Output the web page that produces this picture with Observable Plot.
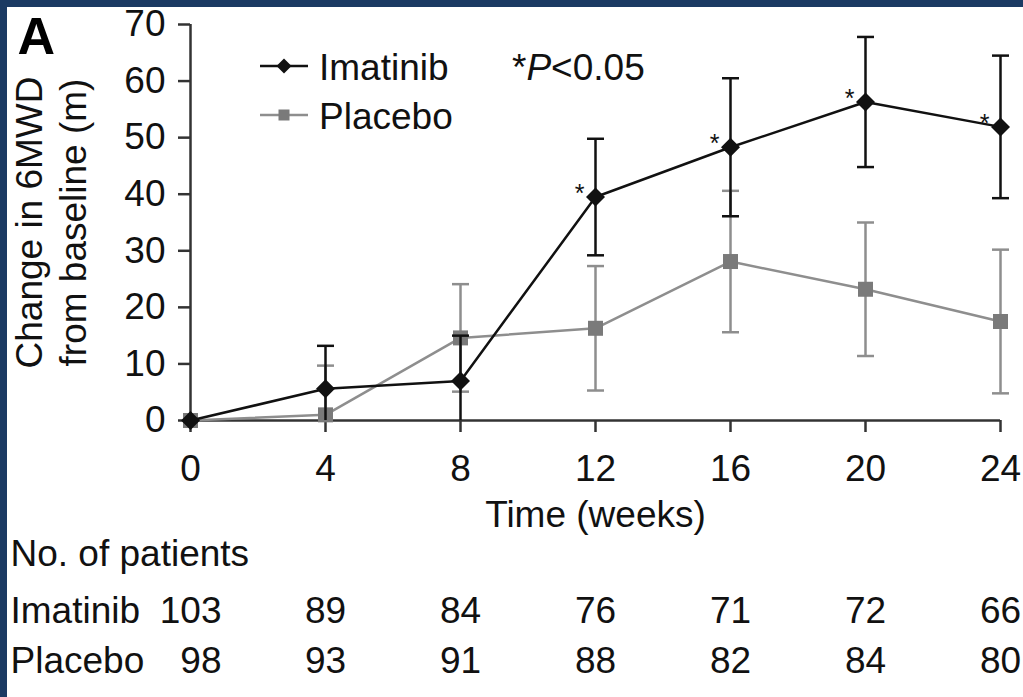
<!DOCTYPE html>
<html><head><meta charset="utf-8">
<script src="https://cdn.jsdelivr.net/npm/d3@7"></script>
<script src="https://cdn.jsdelivr.net/npm/@observablehq/plot@0.6"></script>
<style>
html,body{margin:0;padding:0;background:#fff;width:1023px;height:697px;overflow:hidden}
#chart{position:absolute;left:0;top:0}
.bt{position:absolute;left:0;top:0;width:1023px;height:7px;background:#1b3a63}
.bl{position:absolute;left:0;top:0;width:7px;height:697px;background:#1b3a63}
</style></head><body>
<div id="chart"></div><div class="bt"></div><div class="bl"></div>
<script>
// ---- data ----
const weeks = [0, 4, 8, 12, 16, 20, 24];
const imatinibMean = [0, 5.6, 7.0, 39.5, 48.3, 56.3, 51.9];
const imatinibErr  = [0, 7.6, 8.0, 10.3, 12.2, 11.5, 12.6];
const placeboMean  = [0, 1.0, 14.6, 16.3, 28.1, 23.2, 17.5];
const placeboErr   = [0, 8.7, 9.5, 11.0, 12.5, 11.8, 12.7];
const significant  = [false, false, false, true, true, true, true];
const imatinibN = [103, 89, 84, 76, 71, 72, 66];
const placeboN  = [98, 93, 91, 88, 82, 84, 80];
const yTicks = [0, 10, 20, 30, 40, 50, 60, 70];
const xTicks = [0, 4, 8, 12, 16, 20, 24];
const seriesNames = ["Imatinib", "Placebo"];

// ---- tables built from the arrays ----
const imatinib = weeks.map((w, i) => ({week: w, mean: imatinibMean[i], lo: Math.max(0, imatinibMean[i] - imatinibErr[i]), hi: imatinibMean[i] + imatinibErr[i], hasErr: imatinibErr[i] > 0, sig: significant[i], n: imatinibN[i]}));
const placebo = weeks.map((w, i) => ({week: w, mean: placeboMean[i], lo: Math.max(0, placeboMean[i] - placeboErr[i]), hi: placeboMean[i] + placeboErr[i], hasErr: placeboErr[i] > 0, n: placeboN[i]}));

const BLACK = "#111", GRAY = "#8e8e8e", GRAYFILL = "#7a7a7a", AXIS = "#333";
const FONT = "'Liberation Sans', Arial, Helvetica, sans-serif";
const FS = 37;

const capSym = {draw(ctx) { ctx.moveTo(-8.5, 0); ctx.lineTo(8.5, 0); }};
const diamondSym = {draw(ctx) { const r = 9.5; ctx.moveTo(0, -r); ctx.lineTo(r, 0); ctx.lineTo(0, r); ctx.lineTo(-r, 0); ctx.closePath(); }};
const squareSym = {draw(ctx) { const r = 7.5; ctx.rect(-r, -r, 2 * r, 2 * r); }};

function errorMarks(data, color) {
  const d = data.filter(r => r.hasErr);
  return [
    Plot.ruleX(d, {x: "week", y1: "lo", y2: "hi", stroke: color, strokeWidth: 2.5}),
    Plot.dot(d, {x: "week", y: "hi", symbol: capSym, stroke: color, strokeWidth: 2.5, fill: "none", r: 5}),
    Plot.dot(d.filter(r => r.mean - (r.hi - r.mean) >= 0), {x: "week", y: "lo", symbol: capSym, stroke: color, strokeWidth: 2.5, fill: "none", r: 5})
  ];
}

function legend() {
  const g = d3.create("svg:g").attr("font-family", FONT).attr("font-size", FS).attr("text-anchor", "start");
  const items = [
    {name: seriesNames[0], y: 66, color: BLACK, sym: "d"},
    {name: seriesNames[1], y: 115, color: GRAY, sym: "s"}
  ];
  for (const it of items) {
    g.append("line").attr("x1", 260).attr("x2", 308).attr("y1", it.y).attr("y2", it.y)
      .attr("stroke", it.color).attr("stroke-width", 2.5);
    if (it.sym === "d") {
      const r = 7.5;
      g.append("path").attr("d", `M284,${it.y - r}L${284 + r},${it.y}L284,${it.y + r}L${284 - r},${it.y}Z`).attr("fill", BLACK);
    } else {
      g.append("rect").attr("x", 284 - 5.5).attr("y", it.y - 5.5).attr("width", 11).attr("height", 11).attr("fill", GRAYFILL);
    }
    g.append("text").attr("x", 319).attr("y", it.y + 14).attr("fill", "#111").attr("text-anchor", "start").text(it.name);
  }
  const t = g.append("text").attr("x", 512).attr("y", 80).attr("fill", "#111").attr("text-anchor", "start");
  t.append("tspan").text("*");
  t.append("tspan").attr("font-style", "italic").text("P");
  t.append("tspan").text("<0.05");
  return g.node();
}

const plot = Plot.plot({
  width: 1023,
  height: 697,
  marginLeft: 190,
  marginRight: 23,
  marginTop: 24,
  marginBottom: 277,
  style: {fontFamily: FONT, fontSize: FS + "px", color: "#111", background: "transparent", overflow: "visible"},
  x: {domain: [0, 24]},
  y: {domain: [0, 70]},
  marks: [
    // axes
    Plot.ruleX([0], {stroke: AXIS, strokeWidth: 2.5}),
    Plot.ruleY([0], {stroke: AXIS, strokeWidth: 2.5}),
    Plot.axisY({ticks: yTicks, tickSize: 12, tickPadding: 13, tickFormat: d => String(d), stroke: AXIS, strokeWidth: 2.5, fontSize: FS, label: null}),
    Plot.axisX({ticks: xTicks, tickSize: 12, tickPadding: 22, tickFormat: d => String(d), stroke: AXIS, strokeWidth: 2.5, fontSize: FS, label: null}),
    // y label
    Plot.text(["Change in 6MWD\nfrom baseline (m)"], {frameAnchor: "left", dx: -141, rotate: -90, textAnchor: "middle", lineAnchor: "middle", lineHeight: 1.2, fontSize: FS, fill: "#111"}),
    // panel letter
    Plot.text(["A"], {frameAnchor: "top-left", dx: -173, dy: 29, textAnchor: "start", lineAnchor: "bottom", fontSize: 52, fontWeight: "bold", fill: "#000"}),
    // placebo
    ...errorMarks(placebo, GRAY),
    Plot.line(placebo, {x: "week", y: "mean", stroke: GRAY, strokeWidth: 2.5}),
    Plot.dot(placebo, {x: "week", y: "mean", symbol: squareSym, fill: GRAYFILL, r: 5}),
    // imatinib
    ...errorMarks(imatinib, BLACK),
    Plot.line(imatinib, {x: "week", y: "mean", stroke: BLACK, strokeWidth: 2.5}),
    Plot.dot(imatinib, {x: "week", y: "mean", symbol: diamondSym, fill: BLACK, r: 5}),
    Plot.text(imatinib.filter(d => d.sig), {x: "week", y: "mean", text: () => "*", dx: -16, dy: -3, fontSize: 25, fill: "#111"}),
    // x label
    Plot.text(["Time (weeks)"], {frameAnchor: "bottom", dy: 106, lineAnchor: "bottom", fontSize: FS, fill: "#111"}),
    // patient table
    Plot.text(["No. of patients"], {frameAnchor: "bottom-left", dx: -180, dy: 145, textAnchor: "start", lineAnchor: "bottom", fontSize: FS, fill: "#111"}),
    Plot.text([seriesNames[0]], {frameAnchor: "bottom-left", dx: -180, dy: 202, textAnchor: "start", lineAnchor: "bottom", fontSize: FS, fill: "#111"}),
    Plot.text([seriesNames[1]], {frameAnchor: "bottom-left", dx: -180, dy: 252, textAnchor: "start", lineAnchor: "bottom", fontSize: FS, fill: "#111"}),
    Plot.text(imatinib.filter(d => d.week > 0), {x: "week", text: d => String(d.n), frameAnchor: "bottom", dy: 202, lineAnchor: "bottom", fontSize: FS, fill: "#111"}),
    Plot.text(placebo.filter(d => d.week > 0), {x: "week", text: d => String(d.n), frameAnchor: "bottom", dy: 252, lineAnchor: "bottom", fontSize: FS, fill: "#111"}),
    Plot.text(imatinib.filter(d => d.week === 0), {x: "week", text: d => String(d.n), frameAnchor: "bottom", dx: 31, dy: 202, textAnchor: "end", lineAnchor: "bottom", fontSize: FS, fill: "#111"}),
    Plot.text(placebo.filter(d => d.week === 0), {x: "week", text: d => String(d.n), frameAnchor: "bottom", dx: 31, dy: 252, textAnchor: "end", lineAnchor: "bottom", fontSize: FS, fill: "#111"}),
    // legend
    legend
  ]
});
document.getElementById("chart").appendChild(plot);
</script>
</body></html>
